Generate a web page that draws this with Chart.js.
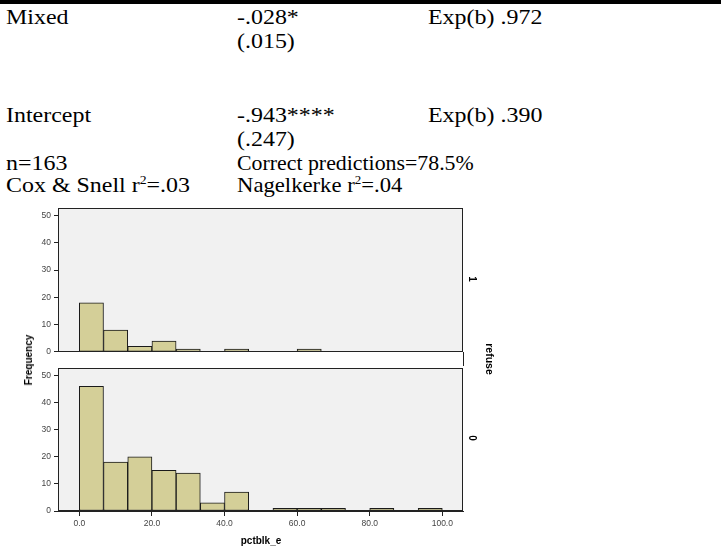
<!DOCTYPE html>
<html>
<head>
<meta charset="utf-8">
<script src="https://cdn.jsdelivr.net/npm/chart.js@4"></script>
<style>
  body { margin: 0; background: #fff; }
  #page { position: relative; width: 721px; height: 555px; overflow: hidden; }
  .t {
    position: absolute;
    font-family: "Liberation Serif", "Times New Roman", serif;
    font-size: 21px;
    line-height: 21px;
    white-space: nowrap;
    color: #000;
    transform: scaleX(1.14);
    transform-origin: 0 0;
  }
  .t sup { font-size: 12px; line-height: 0; vertical-align: 8px; }
  .lab {
    position: absolute;
    font-family: "Liberation Sans", Arial, sans-serif;
    font-weight: bold;
    font-size: 10px;
    line-height: 12px;
    color: #000;
    white-space: nowrap;
  }
  canvas { position: absolute; left: 0; }
  #rule { position: absolute; left: 0; top: 0; width: 721px; height: 4px; background: #000; }
  #gapline { position: absolute; left: 462.5px; top: 352px; width: 1px; height: 14px; background: #222; }
</style>
</head>
<body>
<div id="page">
  <div id="rule"></div>

  <div class="t" style="left:6px;top:7px">Mixed</div>
  <div class="t" style="left:237px;top:7px">-.028*</div>
  <div class="t" style="left:428px;top:7px">Exp(b) .972</div>
  <div class="t" style="left:237px;top:31px">(.015)</div>

  <div class="t" style="left:6px;top:105px">Intercept</div>
  <div class="t" style="left:237px;top:105px">-.943****</div>
  <div class="t" style="left:428px;top:105px">Exp(b) .390</div>
  <div class="t" style="left:237px;top:129px">(.247)</div>

  <div class="t" style="left:6px;top:153px">n=163</div>
  <div class="t" style="left:237px;top:153px;transform:scaleX(1.04)">Correct predictions=78.5%</div>
  <div class="t" style="left:6px;top:175px">Cox &amp; Snell r<sup>2</sup>=.03</div>
  <div class="t" style="left:237px;top:175px;transform:scaleX(1.08)">Nagelkerke r<sup>2</sup>=.04</div>

  <canvas id="top" width="500" height="160" style="top:200px;width:500px;height:160px"></canvas>
  <canvas id="bottom" width="500" height="195" style="top:360px;width:500px;height:195px"></canvas>
  <div id="gapline"></div>

  <div class="lab" style="left:29px;top:360px;transform:translate(-50%,-50%) rotate(-90deg)">Frequency</div>
  <div class="lab" style="left:472px;top:279px;transform:translate(-50%,-50%) rotate(90deg)">1</div>
  <div class="lab" style="left:472px;top:438px;transform:translate(-50%,-50%) rotate(90deg)">0</div>
  <div class="lab" style="left:490px;top:359px;font-size:10.5px;transform:translate(-50%,-50%) rotate(90deg)">refuse</div>
</div>

<script>
// pctblk_e bins (width 6.67), mid points
const binMids = [3.33, 10, 16.67, 23.33, 30, 36.67, 43.33, 50, 56.67, 63.33, 70, 76.67, 83.33, 90, 96.67];
// counts for refuse = 1 and refuse = 0
const refuse1 = [18, 8, 2, 4, 1, 0, 1, 0, 0, 1, 0, 0, 0, 0, 0];
const refuse0 = [46, 18, 20, 15, 14, 3, 7, 0, 1, 1, 1, 0, 1, 0, 1];
const xTicks = [0, 20, 40, 60, 80, 100];
const yTicks = [0, 10, 20, 30, 40, 50];

const panelBox = {
  id: "panelBox",
  beforeDatasetsDraw(chart) {
    const { ctx, chartArea: a } = chart;
    ctx.save();
    ctx.fillStyle = "#f1f1f1";
    ctx.fillRect(a.left, a.top, a.right - a.left, a.bottom - a.top);
    ctx.restore();
  },
  afterDatasetsDraw(chart) {
    const { ctx, chartArea: a } = chart;
    ctx.save();
    ctx.strokeStyle = "#222";
    ctx.lineWidth = 1;
    ctx.strokeRect(Math.round(a.left) - 0.5, Math.round(a.top) + 0.5,
      Math.round(a.right - a.left), Math.round(a.bottom - a.top) - 1);
    ctx.restore();
  },
};

function panel(id, counts, withAxis) {
  const pts = binMids.map((m, i) => ({ x: m, y: counts[i] }));
  return new Chart(document.getElementById(id), {
    type: "bar",
    data: {
      datasets: [
        {
          data: pts,
          backgroundColor: "#d4cf98",
          borderColor: "#1a1a1a",
          borderWidth: 1,
          borderSkipped: false,
          barPercentage: 1,
          categoryPercentage: 1,
        },
      ],
    },
    options: {
      responsive: false,
      animation: false,
      events: [],
      layout: {
        padding: withAxis
          ? { left: 0, right: 37, top: 6, bottom: 8 }
          : { left: 0, right: 37, top: 7, bottom: 8 },
      },
      plugins: {
        legend: { display: false },
        tooltip: { enabled: false },
      },
      scales: {
        x: {
          type: "linear",
          display: withAxis,
          min: -5.6,
          max: 105.7,
          offset: false,
          afterBuildTicks: (s) => {
            s.ticks = xTicks.map((v) => ({ value: v }));
          },
          afterFit: (s) => {
            s.height = withAxis ? 36 : 0;
          },
          ticks: {
            color: "#444",
            padding: 3,
            maxRotation: 0,
            font: { family: "'Liberation Sans', Arial, sans-serif", size: 8.5 },
            callback: (v) => Number(v).toFixed(1),
          },
          grid: {
            offset: false,
            drawOnChartArea: false,
            drawTicks: true,
            tickLength: 5,
            color: "#222",
          },
          border: { display: true, color: "#222" },
          title: {
            display: true,
            text: "pctblk_e",
            color: "#000",
            padding: { top: 5, bottom: 0 },
            font: { family: "'Liberation Sans', Arial, sans-serif", size: 10, weight: "bold" },
          },
        },
        y: {
          min: 0,
          max: 52.7,
          afterBuildTicks: (s) => {
            s.ticks = yTicks.map((v) => ({ value: v }));
          },
          afterFit: (s) => {
            s.width = 59;
          },
          ticks: {
            color: "#444",
            padding: 3,
            font: { family: "'Liberation Sans', Arial, sans-serif", size: 8.5 },
          },
          grid: {
            drawOnChartArea: false,
            drawTicks: true,
            tickLength: 5,
            color: "#222",
          },
          border: { display: true, color: "#222" },
        },
      },
    },
    plugins: [panelBox],
  });
}

panel("top", refuse1, false);
panel("bottom", refuse0, true);
</script>
</body>
</html>
